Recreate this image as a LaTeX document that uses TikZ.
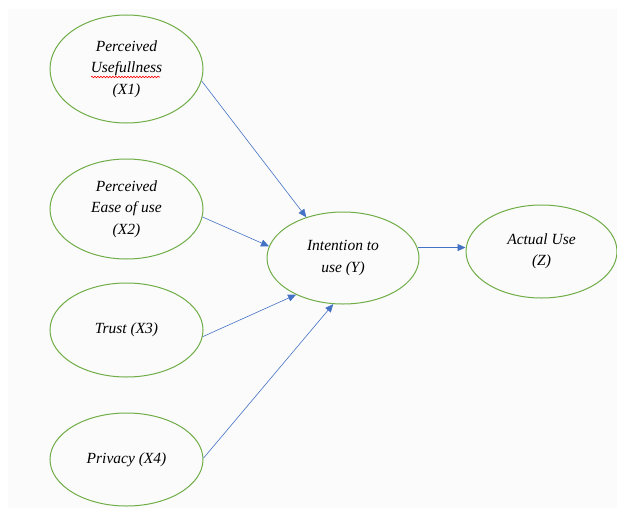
\documentclass[tikz,border=0pt]{standalone}
\usepackage{fontspec}
\setmainfont{Liberation Serif}
\usepackage{tikz}
\usetikzlibrary{shapes,arrows.meta,positioning,decorations.pathmorphing}
\definecolor{wordgreen}{RGB}{112,173,71}
\definecolor{wordblue}{RGB}{68,114,196}
\tikzset{
    varnode/.style={ellipse,draw=wordgreen,line width=1pt,align=center,inner sep=0pt,
        font=\itshape\fontsize{15.5}{21.5}\selectfont},
    linkarrow/.style={draw=wordblue,line width=0.6pt,-{Triangle[length=8pt,width=7pt]}}
}
\begin{document}
\begin{tikzpicture}[x=1pt,y=-1pt]
        \useasboundingbox (0,0) rectangle (617,508);
        \fill[black!1.5] (8,9) rectangle (617,508);

        % Independent variables
        \node[varnode,minimum width=153,minimum height=108] (x1) at (126.5,69) {Perceived\\Usefullness\\(X1)};
        \node[varnode,minimum width=153,minimum height=100] (x2) at (126.5,209) {Perceived\\Ease of use\\(X2)};
        \node[varnode,minimum width=153,minimum height=94] (x3) at (126.5,330) {Trust (X3)};
        \node[varnode,minimum width=153,minimum height=93] (x4) at (126.5,459.5) {Privacy (X4)};

        % Intention and actual use
        \node[varnode,minimum width=152,minimum height=92] (y) at (343,258) {Intention to\\use (Y)};
        \node[varnode,minimum width=151,minimum height=93] (z) at (541.5,251.5) {Actual Use\\(Z)};

        % spell check mark
        \draw[red,line width=0.6pt,decorate,decoration={snake,amplitude=0.8pt,segment length=3pt}] (91,77) -- (160,77);

        % Links
        \draw[linkarrow] (x1.-9.5) -- (y.132);
        \draw[linkarrow] (x2.-6.6) -- (y.171.5);
        \draw[linkarrow] (x3.-5) -- (y.218.4);
        \draw[linkarrow] (x4.1) -- (y.258);
        \draw[linkarrow] (y.8.5) -- (y.8.5 -| z.west);
    \end{tikzpicture}
\end{document}
